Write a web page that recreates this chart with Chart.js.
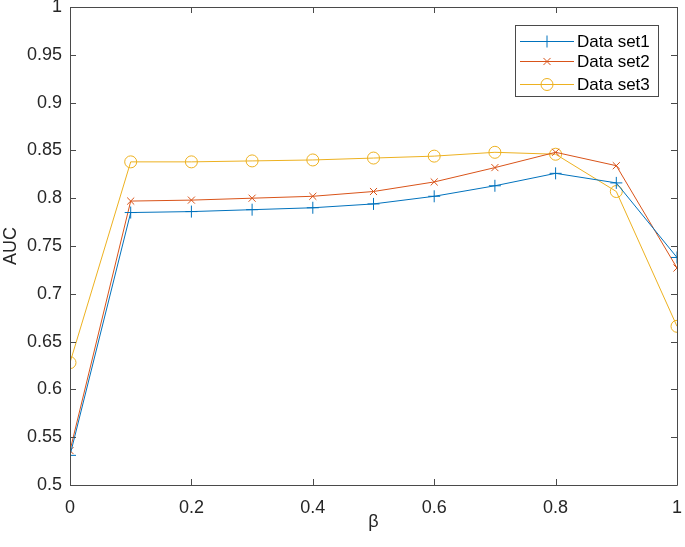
<!DOCTYPE html>
<html><head><meta charset="utf-8">
<script src="https://cdn.jsdelivr.net/npm/chart.js@4"></script>
<style>html,body{margin:0;padding:0;background:#fff}#wrap{width:685px;height:547px}</style>
</head><body><div id="wrap"><canvas id="c" width="685" height="547"></canvas></div>
<script>
const betas = [0, 0.1, 0.2, 0.3, 0.4, 0.5, 0.6, 0.7, 0.8, 0.9, 1.0];
const set1 = [0.531, 0.785, 0.786, 0.788, 0.790, 0.794, 0.802, 0.813, 0.826, 0.816, 0.738];
const set2 = [0.536, 0.797, 0.798, 0.800, 0.802, 0.807, 0.817, 0.832, 0.848, 0.834, 0.727];
const set3 = [0.628, 0.838, 0.838, 0.839, 0.840, 0.842, 0.844, 0.848, 0.846, 0.807, 0.666];
const seriesNames = ['Data set1', 'Data set2', 'Data set3'];
const xTicks = [0, 0.2, 0.4, 0.6, 0.8, 1];
const yTicks = [0.5, 0.55, 0.6, 0.65, 0.7, 0.75, 0.8, 0.85, 0.9, 0.95, 1];

const colors = ['#0072BD', '#D95319', '#EDB120'];
const styles = ['cross', 'crossRot', 'circle'];
const radii = [6, 5, 6];
const FONT = 'Liberation Sans, Arial, sans-serif';
const AX = '#262626';
const AXLINE = '#4a4a4a';

function pts(vals){ return betas.map((b,i)=>({x:b,y:vals[i]})); }
const datasets = [set1,set2,set3].map((v,i)=>({
  label: seriesNames[i], data: pts(v), borderColor: colors[i], borderWidth: 1,
  pointStyle: styles[i], pointRadius: radii[i], pointHoverRadius: radii[i],
  pointBorderColor: colors[i], pointBackgroundColor: 'rgba(0,0,0,0)', pointBorderWidth: 1,
  tension: 0, fill: false
}));

const boxPlugin = {
  id: 'box',
  afterDatasetsDraw(chart){
    const {ctx, chartArea:a, scales:{x,y}} = chart;
    ctx.save();
    ctx.strokeStyle = AXLINE; ctx.lineWidth = 1;
    ctx.beginPath();
    ctx.rect(Math.round(a.left)+0.5, Math.round(a.top)+0.5, Math.round(a.right-a.left), Math.round(a.bottom-a.top));
    ctx.stroke();
    const L = 6;
    ctx.beginPath();
    xTicks.forEach(v=>{ const px = Math.round(x.getPixelForValue(v))+0.5;
      ctx.moveTo(px, a.bottom); ctx.lineTo(px, a.bottom-L);
      ctx.moveTo(px, a.top); ctx.lineTo(px, a.top+L); });
    yTicks.forEach(v=>{ const py = Math.round(y.getPixelForValue(v))+0.5;
      ctx.moveTo(a.left, py); ctx.lineTo(a.left+L, py);
      ctx.moveTo(a.right, py); ctx.lineTo(a.right-L, py); });
    ctx.stroke();
    // legend
    const lx = 515, ly = 25, lw = 143, lh = 71;
    ctx.fillStyle = '#fff'; ctx.fillRect(lx, ly, lw, lh);
    ctx.strokeStyle = AXLINE; ctx.strokeRect(lx+0.5, ly+0.5, lw, lh);
    ctx.font = '17px ' + FONT; ctx.textBaseline = 'middle'; ctx.textAlign = 'left';
    const rows = [41, 61, 84];
    seriesNames.forEach((n,i)=>{
      const yy = rows[i]+0.5;
      ctx.strokeStyle = colors[i]; ctx.lineWidth = 1;
      ctx.beginPath(); ctx.moveTo(520, yy); ctx.lineTo(574, yy); ctx.stroke();
      ctx.fillStyle = 'rgba(0,0,0,0)';
      Chart.helpers.drawPoint(ctx, {pointStyle: styles[i], radius: radii[i], borderWidth: 1, rotation: 0}, 547, yy);
      ctx.fillStyle = '#000'; ctx.fillText(n, 577, rows[i]+1);
    });
    ctx.restore();
  }
};

new Chart(document.getElementById('c'), {
  type: 'line',
  data: { datasets },
  plugins: [boxPlugin],
  options: {
    responsive: false, animation: false, devicePixelRatio: 1,
    layout: { padding: { top: 7, right: 8, left: 0, bottom: 0 } },
    plugins: { legend: { display: false }, tooltip: { enabled: false } },
    scales: {
      x: {
        type: 'linear', min: 0, max: 1,
        afterBuildTicks(s){ s.ticks = xTicks.map(v=>({value:v})); },
        afterFit(s){ s.height = 62; s.paddingLeft = 0; s.paddingRight = 0; },
        grid: { display: false, drawTicks: false },
        border: { display: false },
        ticks: { padding: 12, color: AX, font: { family: FONT, size: 18 },
          callback: v => String(Number(v.toFixed(2))) , maxRotation: 0 },
        title: { display: true, text: 'β', color: AX, font: { family: FONT, size: 18 }, padding: { top: 4, bottom: 14 } }
      },
      y: {
        type: 'linear', min: 0.5, max: 1,
        afterBuildTicks(s){ s.ticks = yTicks.map(v=>({value:v})); },
        afterFit(s){ s.width = 70; s.paddingTop = 0; s.paddingBottom = 0; },
        grid: { display: false, drawTicks: false },
        border: { display: false },
        ticks: { padding: 8, color: AX, font: { family: FONT, size: 18 },
          callback: v => String(Number(v.toFixed(2))) },
        title: { display: true, text: 'AUC', color: AX, font: { family: FONT, size: 18 }, padding: { top: 0, bottom: 2 } }
      }
    }
  }
});
</script></body></html>
